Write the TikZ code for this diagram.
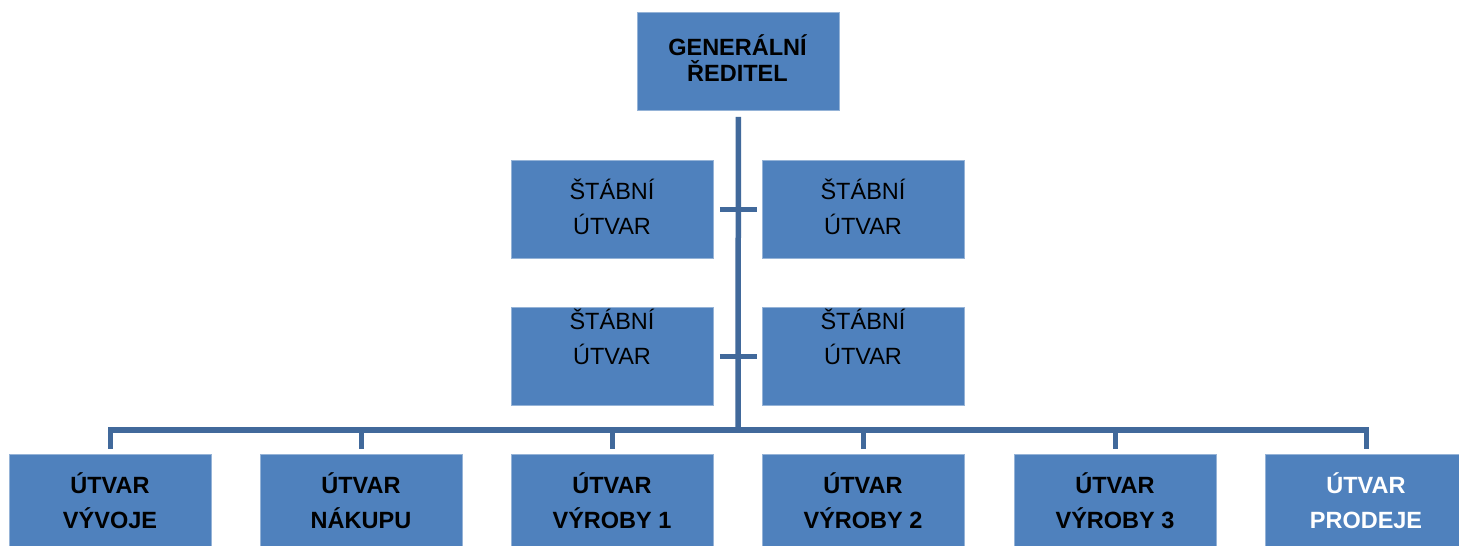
\documentclass[tikz,border=0pt]{standalone}
\usepackage{fontspec}
\setmainfont{Liberation Sans}
\definecolor{boxblue}{HTML}{4F81BD}
\definecolor{linkblue}{HTML}{41699B}
\begin{document}
\begin{tikzpicture}[x=1pt,y=-1pt,
  orgbox/.style={draw=boxblue!60!white, line width=0.8pt, fill=boxblue, minimum width=202pt, minimum height=98pt, inner sep=0pt, anchor=north west},
  lbl/.style={inner sep=0pt, anchor=base, align=center, font=\fontsize{23.5}{35}\selectfont},
  blbl/.style={lbl, font=\fontsize{23.5}{35}\selectfont\bfseries},
  link/.style={draw=linkblue, line width=5.5pt, line join=miter}]
\clip (0,0) rectangle (1459,546);
% boxes
\node[orgbox] (gd) at (637,12) {};
\node[orgbox] (s1) at (511,160) {};
\node[orgbox] (s2) at (762,160) {};
\node[orgbox] (s3) at (511,307) {};
\node[orgbox] (s4) at (762,307) {};
\node[orgbox] (b1) at (9,454) {};
\node[orgbox] (b2) at (260,454) {};
\node[orgbox] (b3) at (511,454) {};
\node[orgbox] (b4) at (762,454) {};
\node[orgbox] (b5) at (1014,454) {};
\node[orgbox] (b6) at (1265,454) {};
% connectors
\coordinate (bus) at (738,430);
\draw[link, shorten <=6pt] (gd.south) -- (bus);
\draw[link, shorten <=6pt, shorten >=5pt] (s1.east) -- (s2.west);
\draw[link, shorten <=6pt, shorten >=5pt] (s3.east) -- (s4.west);
\foreach \b in {b1,b2,b3,b4,b5,b6} {
  \draw[link, shorten >=5pt] (bus) -| (\b.north);
}
% labels (anchor = baseline of last line)
\node[lbl, font=\fontsize{23.5}{26}\selectfont\bfseries] (tgd) at (737.5,81) {GENERÁLNÍ\\ŘEDITEL};
\node[lbl] (ts1) at (612,234) {ŠTÁBNÍ\\ÚTVAR};
\node[lbl] (ts2) at (863,234) {ŠTÁBNÍ\\ÚTVAR};
\node[lbl] (ts3) at (612,364) {ŠTÁBNÍ\\ÚTVAR};
\node[lbl] (ts4) at (863,364) {ŠTÁBNÍ\\ÚTVAR};
\node[blbl] (tb1) at (110,528) {ÚTVAR\\VÝVOJE};
\node[blbl] (tb2) at (361,528) {ÚTVAR\\NÁKUPU};
\node[blbl] (tb3) at (612,528) {ÚTVAR\\VÝROBY 1};
\node[blbl] (tb4) at (863,528) {ÚTVAR\\VÝROBY 2};
\node[blbl] (tb5) at (1115,528) {ÚTVAR\\VÝROBY 3};
\node[blbl, text=white] (tb6) at (1366,528) {ÚTVAR\\PRODEJE};
\end{tikzpicture}
\end{document}
